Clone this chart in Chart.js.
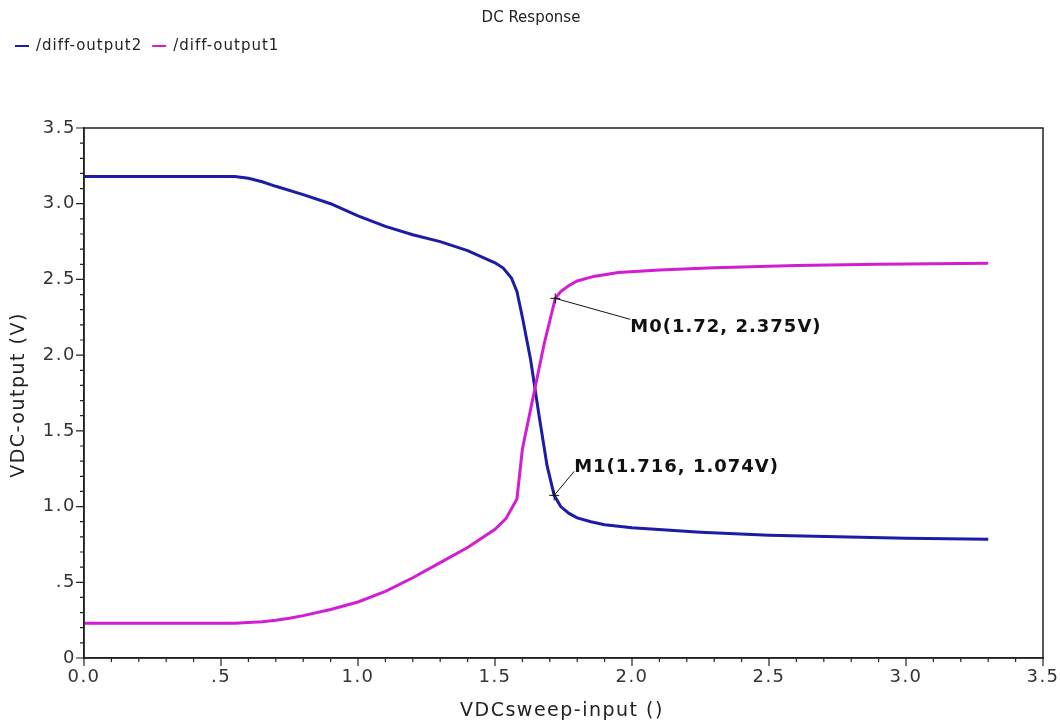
<!DOCTYPE html>
<html>
<head>
<meta charset="utf-8">
<title>DC Response</title>
<script src="https://cdn.jsdelivr.net/npm/chart.js@4/dist/chart.umd.min.js"></script>
<style>
  html, body { margin: 0; padding: 0; background: #fff; }
  #wrap { width: 1060px; height: 725px; position: relative; }
</style>
</head>
<body>
<div id="wrap"><canvas id="dc"></canvas></div>
<script>
// sweep points for /diff-output2 (blue)
const out2X = [0, 0.3, 0.55, 0.6, 0.65, 0.7, 0.8, 0.9, 1.0, 1.1, 1.2, 1.3, 1.4, 1.5, 1.53, 1.56, 1.58, 1.6, 1.63, 1.66, 1.69, 1.716, 1.74, 1.77, 1.8, 1.85, 1.9, 2.0, 2.25, 2.5, 2.75, 3.0, 3.3];
const out2Y = [3.18, 3.18, 3.18, 3.168, 3.145, 3.115, 3.06, 3.0, 2.92, 2.85, 2.795, 2.75, 2.69, 2.61, 2.575, 2.51, 2.42, 2.25, 1.97, 1.61, 1.27, 1.074, 1.0, 0.955, 0.925, 0.9, 0.88, 0.86, 0.83, 0.81, 0.8, 0.79, 0.785];

// sweep points for /diff-output1 (magenta)
const out1X = [0, 0.3, 0.55, 0.6, 0.65, 0.7, 0.75, 0.8, 0.9, 1.0, 1.1, 1.2, 1.3, 1.4, 1.5, 1.54, 1.58, 1.6, 1.64, 1.68, 1.72, 1.74, 1.77, 1.8, 1.86, 1.95, 2.1, 2.3, 2.6, 2.9, 3.3];
const out1Y = [0.23, 0.23, 0.23, 0.235, 0.24, 0.25, 0.263, 0.28, 0.32, 0.37, 0.44, 0.53, 0.63, 0.73, 0.85, 0.92, 1.05, 1.38, 1.73, 2.08, 2.375, 2.42, 2.46, 2.49, 2.52, 2.545, 2.563, 2.577, 2.592, 2.6, 2.607];

const seriesNames = ["/diff-output2", "/diff-output1"];
const seriesColors = ["#1c1ca6", "#d21ed2"];

// markers
const markerX = [1.72, 1.716];
const markerY = [2.375, 1.074];
const markerText = ["M0(1.72, 2.375V)", "M1(1.716, 1.074V)"];

const axisFont = "DejaVu Sans";

function fmtTick(v, zeroLabel) {
  const r = Math.round(v * 10);
  if (r % 5 !== 0) return "";
  if (r === 0) return zeroLabel;
  if (r < 10) return "." + (r % 10);
  return (r / 10).toFixed(1);
}

function toPoints(xs, ys) {
  return xs.map((x, i) => ({ x: x, y: ys[i] }));
}

// slightly wide tick labels like the original plot tool
const spacingPlugin = {
  id: "spacing",
  beforeDraw(chart) {
    chart.ctx.letterSpacing = "1.5px";
  }
};

// draws frame, tick marks, title, legend, axis titles and markers
const decorPlugin = {
  id: "decor",
  afterDraw(chart) {
    const ctx = chart.ctx;
    const area = chart.chartArea;
    const xs = chart.scales.x;
    const ys = chart.scales.y;
    ctx.save();
    ctx.letterSpacing = "0px";

    // box
    ctx.strokeStyle = "#222";
    ctx.lineWidth = 1.5;
    ctx.strokeRect(area.left, area.top, area.right - area.left, area.bottom - area.top);

    // tick marks
    ctx.lineWidth = 1.2;
    ctx.beginPath();
    xs.ticks.forEach(t => {
      const px = xs.getPixelForValue(t.value);
      const major = Math.round(t.value * 10) % 5 === 0;
      ctx.moveTo(px, area.bottom);
      ctx.lineTo(px, area.bottom + (major ? 8 : 4));
    });
    ys.ticks.forEach(t => {
      const py = ys.getPixelForValue(t.value);
      const major = Math.round(t.value * 10) % 5 === 0;
      ctx.moveTo(area.left, py);
      ctx.lineTo(area.left - (major ? 8 : 4), py);
    });
    ctx.stroke();

    // title
    ctx.fillStyle = "#222";
    ctx.font = "15px " + axisFont;
    ctx.textAlign = "center";
    ctx.textBaseline = "middle";
    ctx.fillText("DC Response", 531, 18);

    // legend
    ctx.textAlign = "left";
    ctx.letterSpacing = "1px";
    let lx = 15;
    seriesNames.forEach((name, i) => {
      ctx.strokeStyle = seriesColors[i];
      ctx.lineWidth = 2;
      ctx.beginPath();
      ctx.moveTo(lx, 46);
      ctx.lineTo(lx + 14, 46);
      ctx.stroke();
      ctx.fillStyle = "#222";
      ctx.fillText(name, lx + 21, 46);
      lx += 21 + ctx.measureText(name).width + 10;
    });

    // axis titles
    ctx.font = "19px " + axisFont;
    ctx.letterSpacing = "1.5px";
    ctx.textAlign = "center";
    ctx.fillText("VDCsweep-input ()", 562, 711);
    ctx.save();
    ctx.translate(19, 395);
    ctx.rotate(-Math.PI / 2);
    ctx.fillText("VDC-output (V)", 0, 0);
    ctx.restore();

    // markers with leader lines
    const labelOffsets = [[75, 29], [20, -28]];
    ctx.font = "bold 18px " + axisFont;
    ctx.letterSpacing = "1px";
    ctx.textAlign = "left";
    ctx.fillStyle = "#111";
    markerX.forEach((mx, i) => {
      const px = xs.getPixelForValue(mx);
      const py = ys.getPixelForValue(markerY[i]);
      ctx.strokeStyle = "#111";
      ctx.lineWidth = 1;
      ctx.beginPath();
      ctx.moveTo(px - 5, py); ctx.lineTo(px + 5, py);
      ctx.moveTo(px, py - 5); ctx.lineTo(px, py + 5);
      const tx = px + labelOffsets[i][0];
      const ty = py + labelOffsets[i][1];
      ctx.moveTo(px, py);
      ctx.lineTo(tx, ty - (i === 0 ? 8 : -4));
      ctx.stroke();
      ctx.fillText(markerText[i], tx, ty);
    });

    ctx.restore();
  }
};

new Chart(document.getElementById("dc"), {
  type: "line",
  data: {
    datasets: [
      {
        label: seriesNames[1],
        data: toPoints(out1X, out1Y),
        borderColor: seriesColors[1],
        borderWidth: 3,
        pointRadius: 0,
        tension: 0
      },
      {
        label: seriesNames[0],
        data: toPoints(out2X, out2Y),
        borderColor: seriesColors[0],
        borderWidth: 3,
        pointRadius: 0,
        tension: 0
      }
    ]
  },
  options: {
    responsive: true,
    maintainAspectRatio: false,
    animation: false,
    layout: { padding: { top: 128, right: 17, left: 0, bottom: 0 } },
    plugins: {
      legend: { display: false },
      title: { display: false },
      tooltip: { enabled: false }
    },
    scales: {
      x: {
        type: "linear",
        min: 0,
        max: 3.5,
        afterFit: s => { s.height = 67; },
        grid: { display: false, drawTicks: true, tickLength: 8 },
        border: { display: true, color: "#222", width: 1.5 },
        ticks: {
          stepSize: 0.1,
          autoSkip: false,
          maxRotation: 0,
          padding: 1,
          color: "#333",
          font: { family: axisFont, size: 18 },
          callback: v => fmtTick(v, "0.0")
        }
      },
      y: {
        type: "linear",
        min: 0,
        max: 3.5,
        afterFit: s => { s.width = 84; },
        grid: { display: false, drawTicks: true, tickLength: 8 },
        border: { display: true, color: "#222", width: 1.5 },
        ticks: {
          stepSize: 0.1,
          autoSkip: false,
          padding: 0,
          color: "#333",
          font: { family: axisFont, size: 18 },
          callback: v => fmtTick(v, "0")
        }
      }
    }
  },
  plugins: [spacingPlugin, decorPlugin]
});
</script>
</body>
</html>
